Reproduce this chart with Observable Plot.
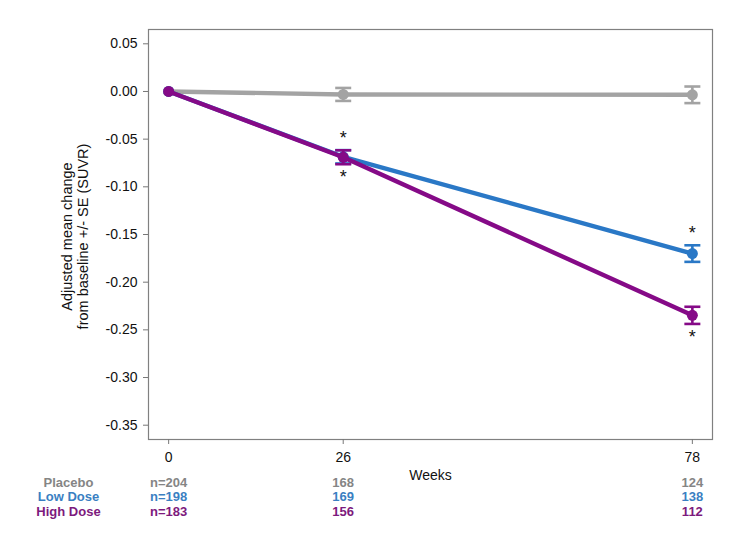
<!DOCTYPE html>
<html><head><meta charset="utf-8">
<script src="https://cdn.jsdelivr.net/npm/d3@7"></script>
<script src="https://cdn.jsdelivr.net/npm/@observablehq/plot@0.6"></script>
<style>body{margin:0;background:#fff} svg{display:block}</style>
</head><body><div id="chart"></div>
<script>
const weeks = [0, 26, 78];
const groups = ["Placebo", "Low Dose", "High Dose"];
const colors = ["#a3a3a3", "#2a78c6", "#850a87"];
const labelColors = ["#858585", "#3a7fc2", "#7d1a7d"];
const placeboMean = [0, -0.0031, -0.0035];
const placeboSE = [0, 0.0068, 0.0087];
const lowMean = [0, -0.0685, -0.1700];
const lowSE = [0, 0.0070, 0.0087];
const highMean = [0, -0.0690, -0.2348];
const highSE = [0, 0.0073, 0.0090];
const placeboN = [204, 168, 124];
const lowN = [198, 169, 138];
const highN = [183, 156, 112];
const yTicks = [0.05, 0, -0.05, -0.10, -0.15, -0.20, -0.25, -0.30, -0.35];
const sigWeeks = [26, 78];
const sigAbove = "Low Dose";
const sigBelow = "High Dose";
const yLabel = "Adjusted mean change\nfrom baseline +/- SE (SUVR)";
const xLabel = "Weeks";

const means = [placeboMean, lowMean, highMean];
const ses = [placeboSE, lowSE, highSE];
const ns = [placeboN, lowN, highN];

const rows = groups.map((g, i) => weeks.map((w, j) => ({group: g, week: w, mean: means[i][j], se: ses[i][j], n: ns[i][j]})));

const cap = {draw(ctx, size) { const r = Math.sqrt(size / Math.PI); ctx.moveTo(-r, 0); ctx.lineTo(r, 0); }};

const marks = [Plot.frame({stroke: "#808080", strokeWidth: 1.2})];
groups.forEach((g, i) => {
  const d = rows[i];
  const err = d.filter(r => r.se > 0);
  const c = colors[i];
  marks.push(
    Plot.line(d, {x: "week", y: "mean", stroke: c, strokeWidth: 4.4, strokeLinejoin: "round", strokeLinecap: "round"}),
    Plot.ruleX(err, {x: "week", y1: r => r.mean - r.se, y2: r => r.mean + r.se, stroke: c, strokeWidth: 2.6}),
    Plot.dot(err, {x: "week", y: r => r.mean - r.se, symbol: cap, r: 8, stroke: c, strokeWidth: 2.6, fill: "none"}),
    Plot.dot(err, {x: "week", y: r => r.mean + r.se, symbol: cap, r: 8, stroke: c, strokeWidth: 2.6, fill: "none"}),
    Plot.dot(d, {x: "week", y: "mean", r: 5.5, fill: c, stroke: "none"})
  );
});
const lowRows = rows[groups.indexOf(sigAbove)].filter(r => sigWeeks.includes(r.week));
const highRows = rows[groups.indexOf(sigBelow)].filter(r => sigWeeks.includes(r.week));
marks.push(
  Plot.text(lowRows, {x: "week", y: r => r.mean + r.se, text: () => "*", fontSize: 18, dy: -12, fill: "#111"}),
  Plot.text(highRows, {x: "week", y: r => r.mean - r.se, text: () => "*", fontSize: 18, dy: 13, fill: "#111"})
);
// table of n below the axis
groups.forEach((g, i) => {
  const dy = 47 + 14.5 * i;
  marks.push(
    Plot.text([g], {frameAnchor: "bottom-left", textAnchor: "middle", dx: -80, dy, text: d => d, fill: labelColors[i], fontWeight: "bold", fontSize: 13}),
    Plot.text(rows[i], {x: "week", frameAnchor: "bottom", dy, text: r => (r.week === 0 ? "n=" : "") + r.n, fill: labelColors[i], fontWeight: "bold", fontSize: 13})
  );
});
marks.push(
  Plot.axisY({ticks: yTicks, tickFormat: d => d.toFixed(2), tickSize: 5, tickPadding: 6, fontSize: 14, stroke: "#777", fill: "#111", label: null}),
  Plot.axisX({ticks: weeks, tickFormat: d => String(d), tickSize: 5, tickPadding: 8, fontSize: 14, stroke: "#777", fill: "#111", label: null}),
  Plot.text([xLabel], {frameAnchor: "bottom", dy: 40, text: d => d, fontSize: 14, fill: "#111"}),
  Plot.text([yLabel], {frameAnchor: "left", textAnchor: "middle", rotate: -90, dx: -74, dy: 2, text: d => d, fontSize: 14.5, lineHeight: 1.1, fill: "#111"})
);

const chart = Plot.plot({
  width: 736, height: 545,
  marginTop: 29, marginBottom: 106, marginLeft: 148, marginRight: 24,
  x: {domain: [-3, 81]},
  y: {domain: [-0.365, 0.065]},
  style: {fontFamily: "'Liberation Sans', Arial, sans-serif", background: "#fff", color: "#111"},
  marks
});
document.getElementById("chart").appendChild(chart);
</script>
</body></html>
